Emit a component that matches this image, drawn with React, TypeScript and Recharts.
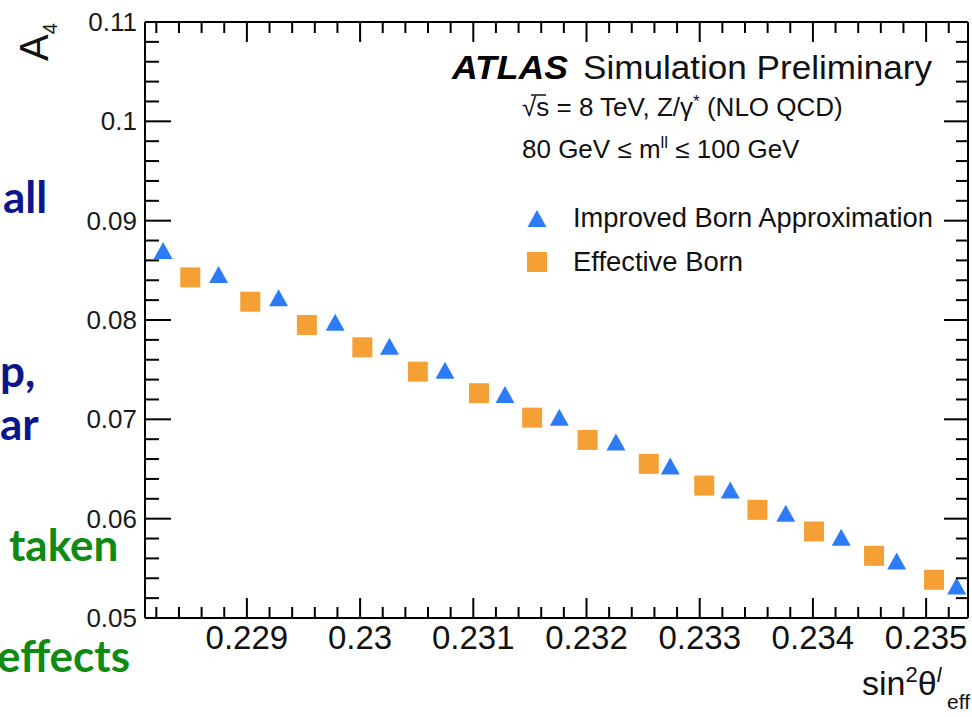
import React from 'react'
import { ScatterChart, Scatter, XAxis, YAxis } from 'recharts'

// A4 vs sin^2(theta_eff)
const improvedBornX = [0.22826, 0.22875, 0.22928, 0.22978, 0.23026, 0.23075, 0.23128, 0.23176, 0.23226, 0.23274, 0.23327, 0.23376, 0.23425, 0.23474, 0.23527]
const improvedBornY = [0.08694, 0.08453, 0.08218, 0.07973, 0.07731, 0.0749, 0.07246, 0.07016, 0.06766, 0.06524, 0.06283, 0.06049, 0.05807, 0.05569, 0.05318]
const effectiveBornX = [0.2285, 0.22903, 0.22953, 0.23002, 0.23051, 0.23105, 0.23152, 0.23201, 0.23255, 0.23304, 0.23351, 0.23401, 0.23454, 0.23507]
const effectiveBornY = [0.08429, 0.08184, 0.0795, 0.07725, 0.0748, 0.07263, 0.07017, 0.06793, 0.06552, 0.06333, 0.06089, 0.05871, 0.05626, 0.05385]

const xMajorTicks = [0.229, 0.23, 0.231, 0.232, 0.233, 0.234, 0.235]
const yMajorTicks = [0.05, 0.06, 0.07, 0.08, 0.09, 0.1, 0.11]
const xDomain: [number, number] = [0.2281, 0.23537]
const yDomain: [number, number] = [0.05, 0.11]

const BLUE = '#2c7cf7'
const ORANGE = '#f5a034'
const FONT = '"Liberation Sans", Arial, Helvetica, sans-serif'
const SLIDE_FONT = 'Lato, "Open Sans", sans-serif'

// minor ticks every 1/5 of a major step, inside the domain
function withMinor(majors: number[], lo: number, hi: number) {
  const step = (majors[1] - majors[0]) / 5
  const out: number[] = []
  for (let k = -10; k <= majors.length * 5 + 10; k++) {
    const v = Number((majors[0] + k * step).toFixed(6))
    if (v >= lo - 1e-9 && v <= hi + 1e-9) out.push(v)
  }
  return out
}

const xTicks = withMinor(xMajorTicks, xDomain[0], xDomain[1])
const yTicks = withMinor(yMajorTicks, yDomain[0], yDomain[1])

const isMajor = (v: number, list: number[]) => list.some((m) => Math.abs(m - v) < 1e-7)

const improvedData = improvedBornX.map((x, i) => ({ x, y: improvedBornY[i] }))
const effectiveData = effectiveBornX.map((x, i) => ({ x, y: effectiveBornY[i] }))

const BottomTick = (props: any) => {
  const { x, y, payload } = props
  const major = isMajor(payload.value, xMajorTicks)
  return (
    <g>
      <line x1={x} x2={x} y1={y} y2={y - (major ? 20 : 11)} stroke="#000" strokeWidth={2} />
      {major && (
        <text x={x} y={y + 31} textAnchor="middle" fontSize={33} fontFamily={FONT} fill="#111">
          {String(Number(payload.value.toFixed(3)))}
        </text>
      )}
    </g>
  )
}

const TopTick = (props: any) => {
  const { x, y, payload } = props
  const major = isMajor(payload.value, xMajorTicks)
  return <line x1={x} x2={x} y1={y} y2={y + (major ? 20 : 11)} stroke="#000" strokeWidth={2} />
}

const LeftTick = (props: any) => {
  const { x, y, payload } = props
  const major = isMajor(payload.value, yMajorTicks)
  return (
    <g>
      <line x1={x} x2={x + (major ? 26 : 14)} y1={y} y2={y} stroke="#000" strokeWidth={2} />
      {major && (
        <text x={x - 8} y={y + 9} textAnchor="end" fontSize={26} fontFamily={FONT} fill="#1a1a1a">
          {String(Number(payload.value.toFixed(2)))}
        </text>
      )}
    </g>
  )
}

const RightTick = (props: any) => {
  const { x, y, payload } = props
  const major = isMajor(payload.value, yMajorTicks)
  return <line x1={x} x2={x - (major ? 24 : 12)} y1={y} y2={y} stroke="#000" strokeWidth={2} />
}

const Triangle = (props: any) => {
  const { cx, cy } = props
  return <polygon points={`${cx},${cy - 9} ${cx - 9.5},${cy + 8} ${cx + 9.5},${cy + 8}`} fill={BLUE} />
}

const Square = (props: any) => {
  const { cx, cy } = props
  return <rect x={cx - 10} y={cy - 10} width={20} height={20} fill={ORANGE} />
}

const axisLine = { stroke: '#000', strokeWidth: 2 }

export default function App() {
  return (
    <div style={{ position: 'absolute', left: 0, top: 0, width: 972, height: 717, background: '#fff' }}>
      <ScatterChart width={972} height={717} margin={{ top: 0, right: 0, bottom: 0, left: 0 }}>
        <XAxis xAxisId="b" type="number" dataKey="x" domain={xDomain} ticks={xTicks} interval={0}
          allowDataOverflow height={99} tickSize={0} tickMargin={0} axisLine={axisLine} tick={<BottomTick />} />
        <XAxis xAxisId="t" orientation="top" type="number" dataKey="x" domain={xDomain} ticks={xTicks} interval={0}
          allowDataOverflow height={22} tickSize={0} tickMargin={0} axisLine={axisLine} tick={<TopTick />} />
        <YAxis yAxisId="l" type="number" dataKey="y" domain={yDomain} ticks={yTicks} interval={0}
          allowDataOverflow width={145} tickSize={0} tickMargin={0} axisLine={axisLine} tick={<LeftTick />} />
        <YAxis yAxisId="r" orientation="right" type="number" dataKey="y" domain={yDomain} ticks={yTicks} interval={0}
          allowDataOverflow width={4} tickSize={0} tickMargin={0} axisLine={axisLine} tick={<RightTick />} />
        <Scatter name="Improved Born Approximation" data={improvedData} xAxisId="b" yAxisId="l"
          shape={<Triangle />} isAnimationActive={false} />
        <Scatter name="Effective Born" data={effectiveData} xAxisId="b" yAxisId="l"
          shape={<Square />} isAnimationActive={false} />
      </ScatterChart>

      <svg width={972} height={717} style={{ position: 'absolute', left: 0, top: 0, pointerEvents: 'none' }}>
        {/* cut-off slide text on the left */}
        <g fontFamily={SLIDE_FONT} fontWeight={700} fontSize={44}>
          <text x={3} y={213} fill="#0c168c">all</text>
          <text x={0} y={387} fill="#0c168c">p,</text>
          <text x={0} y={440} fill="#0c168c">ar</text>
          <text x={9} y={561} fill="#0f8a12">taken</text>
          <text x={-3} y={672} fill="#0f8a12">effects</text>
        </g>

        {/* axis titles */}
        <text transform="rotate(-90 48 61)" x={48} y={61} fontFamily={FONT} fontSize={40} fill="#111">
          A<tspan fontSize={20} dy={9}>4</tspan>
        </text>
        <text x={862} y={695} fontFamily={FONT} fontSize={34} fill="#111">
          sin<tspan fontSize={22} dy={-13}>2</tspan>
          <tspan dy={13}>θ</tspan>
          <tspan fontSize={21} dy={-13} fontStyle="italic">l</tspan>
          <tspan x={947} dy={27} fontSize={21}>eff</tspan>
        </text>

        {/* ATLAS label block */}
        <text x={452} y={79} fontFamily={FONT} fontSize={33} fontWeight={700} fontStyle="italic" fill="#000"
          textLength={116} lengthAdjust="spacingAndGlyphs">ATLAS</text>
        <text x={583} y={79} fontFamily={FONT} fontSize={33} fill="#111"
          textLength={349} lengthAdjust="spacingAndGlyphs">Simulation Preliminary</text>
        <line x1={531} x2={546} y1={95} y2={95} stroke="#111" strokeWidth={1.5} />
        <text x={522} y={116} fontFamily={FONT} fontSize={26} fill="#111">
          √s = 8 TeV, Z/γ<tspan fontSize={17} dy={-9}>*</tspan><tspan dy={9}> (NLO QCD)</tspan>
        </text>
        <text x={522} y={158} fontFamily={FONT} fontSize={26} fill="#111">
          80 GeV ≤ m<tspan fontSize={17} dy={-10}>ll</tspan><tspan dy={10}> ≤ 100 GeV</tspan>
        </text>

        {/* legend */}
        <polygon points="537,210 527.5,227 546.5,227" fill={BLUE} />
        <text x={573} y={227} fontFamily={FONT} fontSize={27} fill="#111"
          textLength={360} lengthAdjust="spacingAndGlyphs">Improved Born Approximation</text>
        <rect x={527} y={252} width={20} height={20} fill={ORANGE} />
        <text x={573} y={271} fontFamily={FONT} fontSize={27} fill="#111"
          textLength={170} lengthAdjust="spacingAndGlyphs">Effective Born</text>
      </svg>
    </div>
  )
}
